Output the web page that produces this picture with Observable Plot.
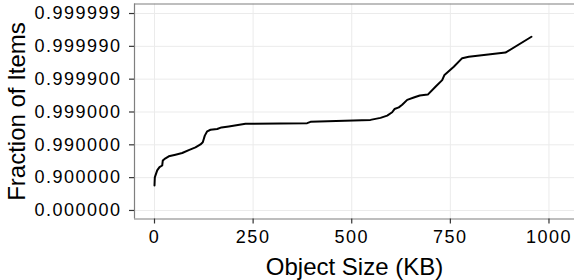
<!DOCTYPE html>
<html>
<head>
<meta charset="utf-8">
<script src="https://cdn.jsdelivr.net/npm/d3@7"></script>
<script src="https://cdn.jsdelivr.net/npm/@observablehq/plot@0.6"></script>
<style>
  html, body { margin: 0; padding: 0; background: #fff; }
  svg { display: block; }
  .ticklab text { letter-spacing: 1.5px; }
</style>
</head>
<body>
<div id="chart"></div>
<script>
// Object size (KB) and cumulative fraction of items
const sizeKB = [0, 0.8, 6.8, 12.7, 19.5, 21, 27.9, 36.2, 53.2, 70.2, 86.9, 103.9, 116.6, 122.4, 127.5, 133.6, 142, 158.9, 169.8, 188.3, 230.7, 387, 395.4, 547.5, 572.9, 589.9, 602.5, 608.4, 619.3, 627.9, 640.6, 657.3, 672.5, 692.8, 712.3, 729.3, 735.1, 758.7, 780, 796.7, 889.7, 955.6];
const fraction = [0.8262, 0.9023, 0.9397, 0.9521, 0.9573, 0.9698, 0.9743, 0.9776, 0.9800, 0.98222, 0.98555, 0.98798, 0.99023, 0.99168, 0.99475, 0.99611, 0.99653, 0.99669, 0.99705, 0.99725, 0.99771, 0.99781, 0.99800, 0.99826, 0.99849, 0.99871, 0.99898, 0.999187, 0.999276, 0.999397, 0.999573, 0.999637, 0.999684, 0.999705, 0.999830, 0.999893, 0.9999259, 0.9999583, 0.9999771, 0.9999791, 0.9999845, 0.9999949];

const xTicks = [0, 250, 500, 750, 1000];
const yTickFractions = [0, 0.9, 0.99, 0.999, 0.9999, 0.99999, 0.999999];
const yTickLabels = ["0.000000", "0.900000", "0.990000", "0.999000", "0.999900", "0.999990", "0.999999"];

const nines = f => -Math.log10(1 - f);
const data = sizeKB.map((x, i) => ({x, t: nines(fraction[i])}));
const yTicks = yTickFractions.map(nines);

const xDomain = [-50.7, 1064.7];
const yDomain = [-0.26, 6.29];
const font = "Liberation Sans, Arial, Helvetica, sans-serif";

const chart = Plot.plot({
  width: 574,
  height: 280,
  marginLeft: 134,
  marginRight: 0,
  marginTop: 3.5,
  marginBottom: 61.5,
  style: {fontFamily: font, background: "#fff", color: "#000"},
  x: {domain: xDomain},
  y: {domain: yDomain},
  marks: [
    Plot.gridX(xTicks, {stroke: "#ebebeb", strokeOpacity: 1, strokeWidth: 1}),
    Plot.gridY(yTicks, {stroke: "#ebebeb", strokeOpacity: 1, strokeWidth: 1}),
    Plot.ruleX([xDomain[0]], {stroke: "#7f7f7f", strokeWidth: 1.2}),
    Plot.ruleY(yDomain, {stroke: "#7f7f7f", strokeWidth: 1.2}),
    Plot.axisX(xTicks, {tickSize: 5, tickPadding: 6, fontSize: 18, stroke: "#333", strokeWidth: 1.2, fill: "#000", label: null, className: "ticklab", tickFormat: d => String(d)}),
    Plot.axisY(yTicks, {tickSize: 5, tickPadding: 8, fontSize: 18, stroke: "#333", strokeWidth: 1.2, fill: "#000", label: null, className: "ticklab", tickFormat: (d, i) => yTickLabels[i]}),
    Plot.line(data, {x: "x", y: "t", stroke: "#000", strokeWidth: 2}),
    Plot.text(["Object Size (KB)"], {frameAnchor: "bottom", dy: 56, lineAnchor: "bottom", fontSize: 24, fill: "#000"}),
    Plot.text(["Fraction of Items"], {frameAnchor: "left", dx: -110, rotate: -90, textAnchor: "middle", lineAnchor: "bottom", fontSize: 24, fill: "#000"})
  ]
});
document.getElementById("chart").appendChild(chart);
</script>
</body>
</html>
